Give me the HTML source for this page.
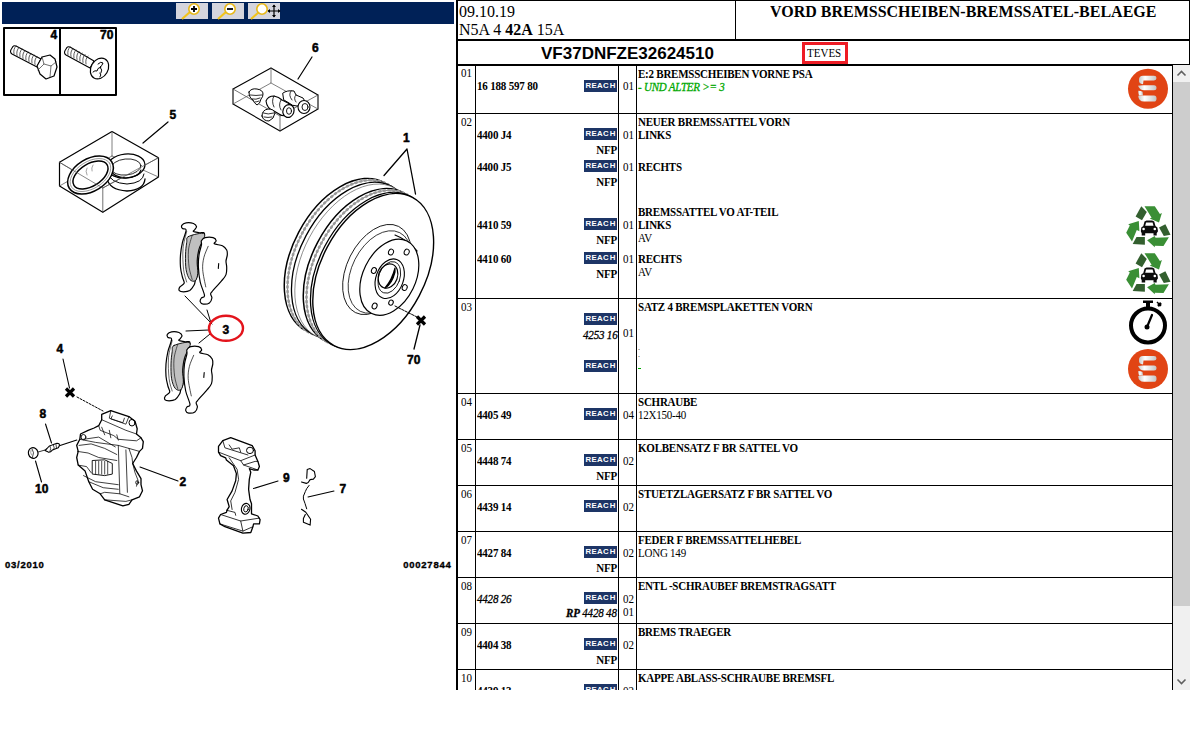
<!DOCTYPE html>
<html><head><meta charset="utf-8"><title>Parts</title>
<style>
html,body{margin:0;padding:0;background:#fff;}
body{width:1190px;height:732px;position:relative;overflow:hidden;font-family:'Liberation Serif', serif;}
</style></head><body>
<svg style="position:absolute;left:0;top:0" width="456" height="732" viewBox="0 0 456 732">
<g fill="none" stroke="#000" stroke-linejoin="round" stroke-linecap="round">
<!-- bolts box -->
<rect x="4" y="28" width="112" height="67" stroke-width="2"/>
<line x1="60" y1="28" x2="60" y2="95" stroke-width="2"/>
<!-- bolt 1 -->
<path d="M12 48 Q9 52 12 54 L37 67 L41 59 L16 46 Q13 45 12 48 Z" stroke-width="1.1" fill="#fff"/>
<path d="M16 46 q-3 3 -2 8 M19 47.5 q-3 3 -2 8 M22 49 q-3 3 -2 8 M25 50.5 q-3 3 -2 8 M28 52 q-3 3 -2 8 M31 53.5 q-3 3 -2 8 M34 55 q-3 3 -2 8 M37 56.5 q-3 3 -2 8" stroke-width="0.8" stroke="#333"/>
<path d="M42 57 L50 55 L55 59 L57 67 L54 76 L46 79 L40 74 L37 66 Z" stroke-width="1.2" fill="#fff"/>
<path d="M42 57 L44 64 L38 70 M44 64 L51 66 L56 62 M51 66 L50 77" stroke-width="0.7" stroke="#333"/>
<!-- bolt 2 -->
<path d="M66 49 Q63 53 66 55 L90 68 L94 61 L70 47 Q67 46 66 49 Z" stroke-width="1.1" fill="#fff"/>
<path d="M70 47 q-3 3 -2 8 M73 48.5 q-3 3 -2 8 M76 50 q-3 3 -2 8 M79 51.5 q-3 3 -2 8 M82 53 q-3 3 -2 8 M85 54.5 q-3 3 -2 8 M88 56 q-3 3 -2 8" stroke-width="0.8" stroke="#333"/>
<ellipse cx="99.5" cy="68.5" rx="8.5" ry="11" transform="rotate(30 99.5 68.5)" stroke-width="1.2" fill="#fff"/>
<path d="M98 64 q3 -3 5 -1 q-1 3 -3 4 q3 3 1 6 M101 67 q-4 1 -4 4 q-2 -1 -4 1 M100 73 q2 2 0 4" stroke-width="1"/>
<!-- box 6 -->
<path d="M271 68 L318 95 L318 109 L280 131 L233 104 L233 89 Z" stroke-width="1.1"/>
<path d="M233 89 L280 116 L318 95 M280 116 L280 131" stroke-width="0.75" stroke="#444"/>
<path d="M271 68 L271 83 L233 104 M271 83 L318 109" stroke-width="0.75" stroke="#555"/>
<path d="M249 92 q2 -4 8 -3 q6 1 6 5 q0 3 -2 5 q-1 5 -4 6 q-3 -2 -4 -5 q-4 -2 -4 -8 z" stroke-width="1" fill="#fff"/>
<path d="M250 95 q6 1 12 0 M252 99 q4 1 8 -1 M255 102 q2 0 4 -1" stroke-width="0.8"/>
<path d="M283 93 q4 -3 11 -2 l2 4 l7 3 q3 2 0 6 l-6 2 q-5 0 -8 -3 l-5 -3 z" stroke-width="1" fill="#fff"/>
<path d="M291 91 q-3 4 1 9 M296 95 q-3 3 0 7" stroke-width="0.8"/>
<path d="M266 101 q2 -5 8 -5 q5 1 8 4 l6 3 l4 3 q1 6 -4 9 q-5 2 -9 -1 l-5 -3 q-7 -2 -8 -10 z" stroke-width="1.1" fill="#fff"/>
<path d="M274 96 q-3 5 0 11 M281 100 q-3 5 0 10" stroke-width="0.8"/>
<ellipse cx="288.5" cy="111" rx="5.5" ry="6.5" transform="rotate(20 288.5 111)" stroke-width="1.2" fill="#fff"/>
<ellipse cx="289" cy="111" rx="2.5" ry="3.3" stroke-width="0.9"/>
<ellipse cx="304" cy="107" rx="6" ry="6.5" stroke-width="1.1" fill="#fff"/>
<ellipse cx="305" cy="107" rx="3" ry="3.5" stroke-width="0.9"/>
<path d="M262 116 q0 -6 6 -7 q6 0 7 4 q-1 6 -6 8 q-6 0 -7 -5 z" stroke-width="1" fill="#fff"/>
<path d="M263 113 q5 2 11 0 M264 117 q4 1 8 0" stroke-width="0.8"/>
<line x1="298" y1="79" x2="312" y2="57" stroke-width="1.2"/>
<!-- box 5 -->
<path d="M112 131.5 L158.5 157.7 L158.5 177 L102.8 212.3 L59.5 186 L59.5 162.3 Z" stroke-width="1.2"/>
<path d="M59.5 162.3 L102.8 188 L158.5 157.7 M102.8 188 L102.8 212.3" stroke-width="0.75" stroke="#444"/>
<path d="M112 131.5 L112 156 M59.5 186 L112 156 M112 156 L158.5 177" stroke-width="0.75" stroke="#555"/>
<path d="M107 178 q2 12 20 13 q17 -1 18 -12" stroke-width="1.3"/>
<path d="M108 173 q2 10 19 11 q16 -1 17 -10" stroke-width="1"/>
<ellipse cx="126" cy="166" rx="19" ry="12" transform="rotate(-6 126 166)" stroke-width="1.2" fill="#fff"/>
<ellipse cx="126" cy="167" rx="15" ry="8" transform="rotate(-6 126 167)" stroke-width="0.8"/>
<path d="M111 170 q2 7 15 8 q13 -1 15 -8" stroke-width="1.1"/>
<ellipse cx="90.5" cy="175" rx="25" ry="16" transform="rotate(-32 90.5 175)" stroke-width="1.5" fill="#fff"/>
<ellipse cx="90.5" cy="175" rx="19.5" ry="11" transform="rotate(-32 90.5 175)" stroke-width="1.5"/>
<ellipse cx="90.5" cy="175" rx="22.5" ry="13.5" transform="rotate(-32 90.5 175)" stroke-width="0.6" stroke="#666"/>
<path d="M87 168 q-2 3 0 7 M93 165 q-2 3 -1 6" stroke-width="0.6" stroke="#666"/>
<path d="M59.5 162.3 L102.8 188 L158.5 157.7" stroke-width="0.7" stroke="#555"/>
<line x1="143" y1="143" x2="168" y2="122" stroke-width="1.2"/>

<!-- disc: back to front -->
<ellipse cx="344.7" cy="256.4" rx="52.0" ry="83.8" transform="rotate(27.9 344.7 256.4)" stroke-width="1.5" fill="#fff" stroke="#000" />
<ellipse cx="347.9" cy="258.1" rx="52.0" ry="83.8" transform="rotate(27.9 347.9 258.1)" stroke-width="0.8" fill="none" stroke="#777" />
<ellipse cx="347.9" cy="258.1" rx="52.0" ry="83.8" transform="rotate(27.9 347.9 258.1)" stroke-width="2.6" fill="none" stroke="#999" stroke-dasharray="1.2 3.5"/>
<ellipse cx="351.9" cy="260.2" rx="52.0" ry="83.8" transform="rotate(27.9 351.9 260.2)" stroke-width="1.3" fill="#fff" stroke="#000" />
<ellipse cx="355.2" cy="262.0" rx="52.0" ry="83.8" transform="rotate(27.9 355.2 262.0)" stroke-width="0.6" fill="#fff" stroke="#555" />
<ellipse cx="363.7" cy="266.5" rx="52.0" ry="83.8" transform="rotate(27.9 363.7 266.5)" stroke-width="1.5" fill="#fff" stroke="#000" />
<ellipse cx="366.9" cy="268.2" rx="52.0" ry="83.8" transform="rotate(27.9 366.9 268.2)" stroke-width="0.8" fill="none" stroke="#777" />
<ellipse cx="366.9" cy="268.2" rx="52.0" ry="83.8" transform="rotate(27.9 366.9 268.2)" stroke-width="2.6" fill="none" stroke="#999" stroke-dasharray="1.2 3.5"/>
<ellipse cx="370.9" cy="270.3" rx="52.0" ry="83.8" transform="rotate(27.9 370.9 270.3)" stroke-width="1.3" fill="#fff" stroke="#000" />
<ellipse cx="373.2" cy="271.5" rx="52.0" ry="83.8" transform="rotate(27.9 373.2 271.5)" stroke-width="1.4" fill="#fff" stroke="#000" />
<ellipse cx="377" cy="269.5" rx="29.9" ry="48.2" transform="rotate(26.7 377 269.5)" stroke-width="0.8"/>
<ellipse cx="380" cy="272" rx="28" ry="44" transform="rotate(26.7 380 272)" stroke-width="0.7"/>
<path d="M395 235 Q408 240 417 251" stroke-width="1.2"/>
<ellipse cx="389.3" cy="277.3" rx="26.3" ry="40.3" transform="rotate(25.9 389.3 277.3)" stroke-width="1.2" fill="#fff"/>
<ellipse cx="389.7" cy="278.7" rx="13.7" ry="20.5" transform="rotate(20 389.7 278.7)" stroke-width="1.1"/>
<ellipse cx="389.3" cy="277.4" rx="10.6" ry="16.4" transform="rotate(20 389.3 277.4)" stroke-width="0.8"/>
<ellipse cx="388" cy="276" rx="9.5" ry="12.5" transform="rotate(20 388 276)" stroke-width="1.2"/>
<path d="M395 268 Q392 280 385 288 Q392 284 395 272 Z" stroke-width="1.2" fill="#000"/>
<g stroke-width="1">
<ellipse cx="391" cy="252.1" rx="2.4" ry="3" transform="rotate(25 391 252.1)"/>
<ellipse cx="406.7" cy="252.1" rx="2.4" ry="3" transform="rotate(25 406.7 252.1)"/>
<ellipse cx="373.9" cy="270.5" rx="2.4" ry="3" transform="rotate(25 373.9 270.5)"/>
<ellipse cx="404.7" cy="287.6" rx="2.4" ry="3" transform="rotate(25 404.7 287.6)"/>
<ellipse cx="374.6" cy="306" rx="2.4" ry="3" transform="rotate(25 374.6 306)"/>
<ellipse cx="391" cy="302.6" rx="2.2" ry="2.6" transform="rotate(25 391 302.6)"/>
</g>
<path d="M407 149 L384 175.5 M407 149 L415.5 194" stroke-width="1.3"/>
<path d="M395 306 L417 317" stroke-width="1" stroke-dasharray="2.5 1.2"/>
<path d="M420 325 L414 349" stroke-width="1.3"/>

<!-- pads upper pair -->
<g id="pads">
<path d="M181.8 225.4 C182.4 224.5 184.1 223.2 186.1 222.9 C188.0 222.6 191.7 222.9 193.5 223.5 C195.2 224.2 196.3 225.6 196.5 226.6 C196.7 227.6 195.2 228.9 194.7 229.7 C194.2 230.5 192.6 231.0 193.5 231.5 C194.3 232.0 197.8 232.4 199.6 232.8 C201.4 233.2 204.6 231.3 204.5 234.0 C204.4 236.7 200.2 244.2 199.0 248.8 C197.8 253.3 197.3 257.0 197.1 261.1 C196.9 265.2 198.1 270.1 197.8 273.4 C197.4 276.6 195.9 278.8 195.3 280.7 C194.7 282.7 195.0 283.4 194.1 285.0 C193.1 286.7 191.5 289.4 189.8 290.6 C188.0 291.7 185.4 291.8 183.6 291.8 C181.9 291.8 179.9 291.4 179.3 290.6 C178.7 289.8 179.1 288.1 179.9 286.9 C180.7 285.7 183.8 284.8 184.2 283.2 C184.6 281.6 183.0 279.7 182.4 277.0 C181.8 274.4 180.8 270.9 180.5 267.2 C180.2 263.5 180.2 259.0 180.5 254.9 C180.8 250.8 181.5 246.7 182.4 242.6 C183.3 238.5 186.1 232.7 186.1 230.3 C186.1 227.9 183.1 229.3 182.4 228.5 C181.7 227.6 181.2 226.3 181.8 225.4 Z" stroke-width="1.2" fill="#fff"/>
<path d="M188.5 236.5 C191.5 235.0 202.8 231.9 204.5 234.0 C206.3 236.0 200.2 244.2 199.0 248.8 C197.8 253.3 197.3 257.0 197.1 261.1 C196.9 265.2 198.1 270.1 197.8 273.4 C197.4 276.6 196.6 279.7 195.3 280.7 C194.0 281.8 191.3 281.3 189.8 279.5 C188.2 277.7 186.8 273.8 186.1 269.7 C185.4 265.6 185.4 259.4 185.5 254.9 C185.6 250.4 186.2 245.7 186.7 242.6 C187.2 239.5 185.6 237.9 188.5 236.5 Z" stroke-width="0.9" fill="#c0c0c0"/>
<path d="M192.2 235.2 C191.6 237.7 189.0 244.7 188.5 250.0 C188.0 255.3 188.5 262.3 189.1 267.2 C189.8 272.1 191.7 277.5 192.2 279.5 " stroke-width="0.6"/>
<path d="M186.7 231.5 C186.1 234.4 183.5 242.4 183.0 248.8 C182.5 255.1 183.0 264.1 183.6 269.7 C184.2 275.2 186.2 279.9 186.7 282.0 " stroke-width="0.6"/>
<path d="M201.4 240.8 C202.1 239.5 203.2 238.2 205.1 237.7 C207.1 237.2 211.3 237.2 213.1 237.7 C215.0 238.2 216.0 239.7 216.2 240.8 C216.4 241.8 213.3 243.0 214.4 243.8 C215.4 244.7 220.3 244.7 222.4 245.7 C224.4 246.7 225.8 248.4 226.7 250.0 C227.5 251.5 227.4 253.1 227.3 254.9 C227.2 256.7 226.1 259.0 226.0 261.1 C225.9 263.1 226.7 264.9 226.7 267.2 C226.7 269.5 226.9 272.3 226.0 274.6 C225.2 276.8 224.1 277.9 221.7 280.7 C219.4 283.6 213.7 289.5 211.9 291.8 C210.1 294.1 210.7 293.2 210.7 294.3 C210.7 295.3 212.1 296.5 211.9 298.0 C211.7 299.4 210.9 301.8 209.4 302.9 C208.0 303.9 204.8 304.3 203.3 304.1 C201.8 303.9 200.5 302.7 200.2 301.6 C199.9 300.6 200.7 299.0 201.4 298.0 C202.2 296.9 204.7 298.2 204.5 295.5 C204.3 292.8 201.2 286.7 200.2 282.0 C199.2 277.2 198.6 271.7 198.4 267.2 C198.2 262.7 198.5 258.6 199.0 254.9 C199.5 251.2 201.0 247.4 201.4 245.1 C201.9 242.7 200.8 242.0 201.4 240.8 Z" stroke-width="1.2" fill="#fff"/>
<path d="M208.2 246.3 C207.5 248.1 204.8 253.5 203.9 257.4 C203.0 261.3 202.4 264.7 202.7 269.7 C203.0 274.6 205.2 284.0 205.8 286.9 " stroke-width="0.7"/>
<path d="M218.7 263.5 218.3 268.4" stroke-width="1.1"/>
</g>
<use href="#pads" transform="translate(-14.5 109)"/>
<!-- leaders for 3 -->
<path d="M185 296 L212 324 M207 310 L211 323 M186 331 L209 330 M199 343 L210 334" stroke-width="1"/>
<text x="222.5" y="333.5" font-family="Liberation Sans" font-weight="bold" font-size="12" fill="#000" stroke="#000" stroke-width="0.5">3</text>
<ellipse cx="226" cy="328.3" rx="17" ry="12.5" stroke="#e3141c" stroke-width="2.4"/>
<!-- label texts -->
<g font-family="Liberation Sans" font-weight="bold" font-size="12" fill="#000" stroke="#000" stroke-width="0.5">
<text x="50.5" y="39">4</text>
<text x="100" y="39">70</text>
<text x="312" y="52">6</text>
<text x="169.5" y="119">5</text>
<text x="403" y="142">1</text>
<text x="407" y="364">70</text>
<text x="56.5" y="353">4</text>
<text x="39.5" y="418">8</text>
<text x="35" y="493">10</text>
<text x="179.5" y="486">2</text>
<text x="283" y="482">9</text>
<text x="339.5" y="492.5">7</text>
</g>
<g font-family="Liberation Sans" font-weight="bold" font-size="9.5" fill="#000" stroke="#000" stroke-width="0.35" letter-spacing="0.75">
<text x="5" y="568">03/2010</text>
<text x="451.5" y="568" text-anchor="end">00027844</text>
</g>
<!-- crosses -->
<path d="M417 316.5 l8 8 M425 316.5 l-8 8" stroke-width="3.2" stroke-linecap="butt"/>
<path d="M66 388.5 l8 8 M74 388.5 l-8 8" stroke-width="3.2" stroke-linecap="butt"/>
<!-- leaders -->
<path d="M63 359 L69.5 388" stroke-width="1.1"/>
<path d="M77 397 L103 411" stroke-width="1" stroke-dasharray="2 1.5"/>
<path d="M45.5 424 L51.5 443 M35.5 461 L41.5 482 M59.3 445.8 L76.8 440.1 M140 467 L178 481 M253.5 488.5 L278 481 M308 497 L334 491" stroke-width="1.1"/>
<!-- part 10 cap -->
<ellipse cx="33.2" cy="453" rx="4.8" ry="5.4" transform="rotate(-15 33.2 453)" stroke-width="1.2" fill="#fff"/>
<path d="M32 448.5 q3 4 0.5 9" stroke-width="0.7"/>
<path d="M31 450 q-1 3 0.5 5" stroke-width="0.6" stroke="#666"/>
<path d="M38.6 451.9 L45 450" stroke-width="0.8"/>
<!-- part 8 bleed screw -->
<path d="M45 450.5 l2 -2 q2 -3 5 -3.5 l5 -1.7 q3 0 2.3 2.5 l-1 2 l-6 2.3 q-2 2.5 -4 2 z" stroke-width="1.1" fill="#fff"/>
<path d="M50 446 q1.5 2.5 0 5.5 M53.5 445.3 q1.3 2.3 0.3 4.5 M56 444.5 l0.5 3.5" stroke-width="0.7"/>
<!-- caliper -->
<path d="M101.7 414.4 110.8 410.6 128.9 416.6 135.0 421.2 137.2 428.7 136.5 434.0 141.0 437.8 143.3 441.6 142.5 448.4 139.5 451.4 136.5 457.5 132.7 463.5 136.5 471.1 141.0 478.7 141.0 484.7 142.5 490.8 139.5 496.8 132.0 499.8 128.9 504.4 122.9 505.9 104.7 499.8 100.2 493.8 92.6 489.3 88.8 481.7 85.1 471.1 78.2 465.1 76.7 457.5 78.2 451.4 76.7 445.4 79.8 439.3 80.5 434.0 88.1 430.3 94.1 428.0 98.7 425.7 101.7 419.7 Z" stroke-width="1.3" fill="#fff"/>
<path d="M101.7 419.7 125.9 430.3 136.5 434.0" stroke-width="0.75"/>
<path d="M110.8 410.6 109.3 418.2 125.9 424.2 128.9 416.6" stroke-width="0.75"/>
<path d="M112.3 415.9 110.8 418.9 122.9 422.7 124.4 418.2" stroke-width="0.75"/>
<path d="M98.7 425.7 100.2 430.3 113.8 435.6 118.3 439.3 136.5 440.8 141.0 437.8" stroke-width="0.75"/>
<path d="M101.7 427.2 104.7 434.8" stroke-width="0.75"/>
<path d="M109.3 430.3 110.8 437.8" stroke-width="0.75"/>
<path d="M116.8 434.8 118.3 440.1" stroke-width="0.75"/>
<path d="M118.3 445.4 119.8 493.8" stroke-width="0.75"/>
<path d="M125.9 449.9 127.4 492.3" stroke-width="0.75"/>
<path d="M79.8 439.3 95.6 442.4 118.3 445.4 128.9 448.4 139.5 451.4" stroke-width="0.75"/>
<path d="M128.9 448.4 132.0 457.5 132.7 463.5" stroke-width="0.75"/>
<path d="M83.5 439.3 98.7 437.1 115.3 446.9" stroke-width="0.75"/>
<path d="M79.0 445.4 91.1 443.9 104.7 448.4 116.8 454.5" stroke-width="0.75"/>
<path d="M77.5 451.4 88.1 453.0 98.7 457.5 116.8 460.5" stroke-width="0.75"/>
<path d="M83.5 475.6 95.6 481.7 118.3 484.7" stroke-width="0.75"/>
<path d="M88.8 481.7 103.2 487.7 118.3 489.3" stroke-width="0.75"/>
<path d="M100.2 493.8 104.7 492.3 119.8 493.8 128.9 496.8" stroke-width="0.75"/>
<path d="M104.7 499.8 125.9 501.4 132.0 499.8" stroke-width="0.75"/>
<path d="M132.7 463.5 135.0 472.6 138.0 480.2 136.5 486.2" stroke-width="0.75"/>
<path d="M78.2 465.1 86.6 466.6 91.1 472.6" stroke-width="0.75"/>
<path d="M92.6 460.5 104.7 459.8 112.3 463.5 112.3 474.1 104.7 475.6 92.6 474.1 Z" stroke-width="0.9" fill="#fff"/>
<path d="M95.6 461.3 95.6 474.1" stroke-width="0.7"/>
<path d="M98.7 461.3 98.7 474.1" stroke-width="0.7"/>
<path d="M101.7 461.3 101.7 474.1" stroke-width="0.7"/>
<path d="M104.7 461.3 104.7 474.1" stroke-width="0.7"/>
<path d="M107.7 461.3 107.7 474.1" stroke-width="0.7"/>
<ellipse cx="132.0" cy="422.7" rx="3" ry="3.3" stroke-width="1"/>
<ellipse cx="83.5" cy="437.1" rx="2.4" ry="2.6" stroke-width="0.9"/>
<ellipse cx="137.2" cy="482.5" rx="1.5" ry="1.8" stroke-width="0.8"/>
<!-- bracket 9 -->
<path d="M218.5 446.4 222.8 440.6 230.7 437.7 252.2 445.6 255.1 450.7 255.1 455.0 257.9 461.4 259.4 466.5 257.9 470.0 253.6 470.0 249.3 468.6 250.8 472.2 249.3 479.4 248.6 489.4 250.0 499.5 251.5 503.8 251.5 513.8 257.9 516.0 260.1 519.6 259.4 523.9 253.6 523.9 252.9 526.7 250.8 532.5 242.9 533.2 224.9 526.7 219.9 523.9 218.5 518.1 220.6 514.5 226.4 512.4 227.1 510.2 229.2 506.6 227.1 499.5 232.1 490.9 235.7 480.8 236.4 473.6 233.5 465.7 226.4 460.0 225.6 457.8 220.6 455.7 218.5 452.1 Z" stroke-width="1.3" fill="#fff"/>
<path d="M218.5 452.1 240.7 460.7 255.1 455.0" stroke-width="0.8"/>
<path d="M222.8 440.6 224.9 447.8 247.9 455.0" stroke-width="0.8"/>
<path d="M240.7 460.7 243.6 465.0 257.9 470.0" stroke-width="0.8"/>
<path d="M243.6 465.0 255.1 461.4 257.9 461.4" stroke-width="0.8"/>
<path d="M229.2 457.8 237.1 469.3 238.6 479.4 235.0 492.3 230.7 500.9 232.1 509.5" stroke-width="0.8"/>
<path d="M220.6 514.5 240.7 521.0 259.4 518.1" stroke-width="0.8"/>
<path d="M240.7 521.0 242.9 531.1" stroke-width="0.8"/>
<path d="M219.9 523.9 242.9 531.1 252.9 526.7" stroke-width="0.8"/>
<path d="M226.4 510.2 235.0 512.4 235.7 515.3" stroke-width="0.8"/>
<path d="M229.2 444.9 232.1 449.2 239.3 447.8 240.7 452.1" stroke-width="0.8"/>
<ellipse cx="250.0" cy="450.4" rx="3.5" ry="3.2" stroke-width="1"/>
<ellipse cx="245.7" cy="508.8" rx="4.2" ry="5.5" transform="rotate(15 245.7 508.8)" stroke-width="1.1"/>
<ellipse cx="246.0" cy="508.8" rx="2.2" ry="3.2" transform="rotate(15 246.0 508.8)" stroke-width="0.9"/>
<!-- clip 7 -->
<path d="M306.7 478.2 L307.2 469.6 L310.1 468.6 L314.4 471.5 L315.4 476.7 L313.4 479.1 L310.1 479.6 L308.2 482.5 L306.3 483.4 L301.5 482" stroke-width="1.1"/>
<path d="M309.1 485.4 Q306 489 305.3 491.6 Q302.5 497 303.4 499 Q305 503 306.7 508.8" stroke-width="1"/>
<path d="M301.5 509.3 L305.8 512.2 L307.7 515 L310.6 519.3 L310.1 525.1 L303.4 522.2 L303.4 518.4 L305.3 514.5" stroke-width="1.1"/>
</g>
</svg>

<div style="position:absolute;left:2px;top:2px;width:452px;height:22px;background:#002157;"></div><div style="position:absolute;left:176px;top:3px;width:32px;height:16px;background:#d5d5dd;"></div><div style="position:absolute;left:212px;top:3px;width:32px;height:16px;background:#d5d5dd;"></div><div style="position:absolute;left:248px;top:3px;width:32px;height:16px;background:#d5d5dd;"></div><div style="position:absolute;left:456px;top:0px;width:734px;height:1px;background:#000;"></div><div style="position:absolute;left:456px;top:0px;width:2px;height:690px;background:#000;"></div><div style="position:absolute;left:1189px;top:0px;width:1px;height:65px;background:#000;"></div><div style="position:absolute;left:735px;top:0px;width:1px;height:40px;background:#000;"></div><div style="position:absolute;left:456px;top:39px;width:734px;height:2px;background:#000;"></div><div style="position:absolute;left:456px;top:64px;width:734px;height:1px;background:#000;"></div><div style="position:absolute;left:456px;top:65px;width:717px;height:1px;background:#000;"></div><div style="position:absolute;left:459px;top:4.20px;font:normal normal 16.00px/16.00px 'Liberation Serif', serif;color:#000;white-space:pre;">09.10.19</div><div style="position:absolute;left:459px;top:22.20px;font:normal normal 16.00px/16.00px 'Liberation Serif', serif;color:#000;white-space:pre;">N5A 4 <b>42A</b> 15A</div><div style="position:absolute;left:769.5px;top:2.56px;font:normal bold 17.60px/17.60px 'Liberation Serif', serif;color:#000;white-space:pre;transform:scaleX(0.9091);transform-origin:left top;">VORD BREMSSCHEIBEN-BREMSSATEL-BELAEGE</div><div style="position:absolute;left:541px;top:45.21px;font:normal bold 17.00px/17.00px 'Liberation Sans', sans-serif;color:#000;white-space:pre;">VF37DNFZE32624510</div><div style="position:absolute;left:802px;top:42px;width:40px;height:16px;border:3px solid #ee1c25;"></div><div style="position:absolute;left:807px;top:48.13px;font:normal normal 11.66px/11.66px 'Liberation Serif', serif;color:#000;white-space:pre;transform:scaleX(0.9434);transform-origin:left top;">TEVES</div><div style="position:absolute;left:1172px;top:65px;width:1px;height:625px;background:#000;"></div><div style="position:absolute;left:475px;top:65px;width:1px;height:625px;background:#000;"></div><div style="position:absolute;left:618px;top:65px;width:1px;height:625px;background:#000;"></div><div style="position:absolute;left:636px;top:65px;width:1px;height:625px;background:#000;"></div><div style="position:absolute;left:456px;top:113px;width:716px;height:1px;background:#000;"></div><div style="position:absolute;left:456px;top:298px;width:716px;height:1px;background:#000;"></div><div style="position:absolute;left:456px;top:393px;width:716px;height:1px;background:#000;"></div><div style="position:absolute;left:456px;top:439px;width:716px;height:1px;background:#000;"></div><div style="position:absolute;left:456px;top:485px;width:716px;height:1px;background:#000;"></div><div style="position:absolute;left:456px;top:531px;width:716px;height:1px;background:#000;"></div><div style="position:absolute;left:456px;top:577px;width:716px;height:1px;background:#000;"></div><div style="position:absolute;left:456px;top:623px;width:716px;height:1px;background:#000;"></div><div style="position:absolute;left:456px;top:669px;width:716px;height:1px;background:#000;"></div><div style="position:absolute;left:1173px;top:65px;width:17px;height:625px;background:#f0f0f0;"></div><div style="position:absolute;left:1173px;top:82px;width:17px;height:524px;background:#cdcdcd;"></div><svg style="position:absolute;left:1173px;top:65px" width="17" height="17"><path d="M4.5 10.5 L8.5 6.5 L12.5 10.5" stroke="#606060" stroke-width="1.6" fill="none"/></svg><svg style="position:absolute;left:1173px;top:673px" width="17" height="17"><path d="M4.5 6.5 L8.5 10.5 L12.5 6.5" stroke="#606060" stroke-width="1.6" fill="none"/></svg><div style="position:absolute;left:461px;top:68.23px;font:normal normal 11.66px/11.66px 'Liberation Serif', serif;color:#000;white-space:pre;transform:scaleX(0.9434);transform-origin:left top;">01</div><div style="position:absolute;left:461px;top:117.23px;font:normal normal 11.66px/11.66px 'Liberation Serif', serif;color:#000;white-space:pre;transform:scaleX(0.9434);transform-origin:left top;">02</div><div style="position:absolute;left:461px;top:302.23px;font:normal normal 11.66px/11.66px 'Liberation Serif', serif;color:#000;white-space:pre;transform:scaleX(0.9434);transform-origin:left top;">03</div><div style="position:absolute;left:461px;top:397.23px;font:normal normal 11.66px/11.66px 'Liberation Serif', serif;color:#000;white-space:pre;transform:scaleX(0.9434);transform-origin:left top;">04</div><div style="position:absolute;left:461px;top:443.23px;font:normal normal 11.66px/11.66px 'Liberation Serif', serif;color:#000;white-space:pre;transform:scaleX(0.9434);transform-origin:left top;">05</div><div style="position:absolute;left:461px;top:489.23px;font:normal normal 11.66px/11.66px 'Liberation Serif', serif;color:#000;white-space:pre;transform:scaleX(0.9434);transform-origin:left top;">06</div><div style="position:absolute;left:461px;top:535.23px;font:normal normal 11.66px/11.66px 'Liberation Serif', serif;color:#000;white-space:pre;transform:scaleX(0.9434);transform-origin:left top;">07</div><div style="position:absolute;left:461px;top:581.23px;font:normal normal 11.66px/11.66px 'Liberation Serif', serif;color:#000;white-space:pre;transform:scaleX(0.9434);transform-origin:left top;">08</div><div style="position:absolute;left:461px;top:627.23px;font:normal normal 11.66px/11.66px 'Liberation Serif', serif;color:#000;white-space:pre;transform:scaleX(0.9434);transform-origin:left top;">09</div><div style="position:absolute;left:461px;top:673.23px;font:normal normal 11.66px/11.66px 'Liberation Serif', serif;color:#000;white-space:pre;transform:scaleX(0.9434);transform-origin:left top;">10</div><div style="position:absolute;left:477px;top:81.23px;font:normal bold 11.66px/11.66px 'Liberation Serif', serif;color:#000;white-space:pre;letter-spacing:-0.2px;transform:scaleX(0.9434);transform-origin:left top;">16 188 597 80</div><div style="position:absolute;left:584px;top:80px;width:33px;height:12px;background:#1d3566;"></div><div style="position:absolute;left:585.5px;top:82.2px;color:#fff;font:bold 7.8px/8px 'Liberation Sans', sans-serif;letter-spacing:0.35px;white-space:pre;">REAC<span style="letter-spacing:0">&#8202;</span>H</div><div style="position:absolute;left:622.5px;top:81.23px;font:normal normal 11.66px/11.66px 'Liberation Serif', serif;color:#000;white-space:pre;transform:scaleX(0.9434);transform-origin:left top;">01</div><div style="position:absolute;left:638px;top:68.73px;font:normal bold 11.66px/11.66px 'Liberation Serif', serif;color:#000;white-space:pre;letter-spacing:-0.25px;transform:scaleX(0.9434);transform-origin:left top;">E:2 BREMSSCHEIBEN VORNE PSA</div><div style="position:absolute;left:638px;top:81.73px;font:italic normal 11.66px/11.66px 'Liberation Serif', serif;color:#00a800;white-space:pre;letter-spacing:-0.25px;transform:scaleX(0.9434);transform-origin:left top;-webkit-text-stroke:0.3px;">- UND ALTER &gt;= 3</div><div style="position:absolute;left:477px;top:130.23px;font:normal bold 11.66px/11.66px 'Liberation Serif', serif;color:#000;white-space:pre;letter-spacing:-0.2px;transform:scaleX(0.9434);transform-origin:left top;">4400 J4</div><div style="position:absolute;left:584px;top:128px;width:33px;height:12px;background:#1d3566;"></div><div style="position:absolute;left:585.5px;top:130.2px;color:#fff;font:bold 7.8px/8px 'Liberation Sans', sans-serif;letter-spacing:0.35px;white-space:pre;">REAC<span style="letter-spacing:0">&#8202;</span>H</div><div style="position:absolute;left:622.5px;top:130.23px;font:normal normal 11.66px/11.66px 'Liberation Serif', serif;color:#000;white-space:pre;transform:scaleX(0.9434);transform-origin:left top;">01</div><div style="position:absolute;right:573px;top:145.23px;font:normal bold 11.66px/11.66px 'Liberation Serif', serif;color:#000;white-space:pre;letter-spacing:-0.2px;transform:scaleX(0.9434);transform-origin:right top;">NFP</div><div style="position:absolute;left:477px;top:162.23px;font:normal bold 11.66px/11.66px 'Liberation Serif', serif;color:#000;white-space:pre;letter-spacing:-0.2px;transform:scaleX(0.9434);transform-origin:left top;">4400 J5</div><div style="position:absolute;left:584px;top:160px;width:33px;height:12px;background:#1d3566;"></div><div style="position:absolute;left:585.5px;top:162.2px;color:#fff;font:bold 7.8px/8px 'Liberation Sans', sans-serif;letter-spacing:0.35px;white-space:pre;">REAC<span style="letter-spacing:0">&#8202;</span>H</div><div style="position:absolute;left:622.5px;top:162.23px;font:normal normal 11.66px/11.66px 'Liberation Serif', serif;color:#000;white-space:pre;transform:scaleX(0.9434);transform-origin:left top;">01</div><div style="position:absolute;right:573px;top:177.23px;font:normal bold 11.66px/11.66px 'Liberation Serif', serif;color:#000;white-space:pre;letter-spacing:-0.2px;transform:scaleX(0.9434);transform-origin:right top;">NFP</div><div style="position:absolute;left:477px;top:220.23px;font:normal bold 11.66px/11.66px 'Liberation Serif', serif;color:#000;white-space:pre;letter-spacing:-0.2px;transform:scaleX(0.9434);transform-origin:left top;">4410 59</div><div style="position:absolute;left:584px;top:218px;width:33px;height:12px;background:#1d3566;"></div><div style="position:absolute;left:585.5px;top:220.2px;color:#fff;font:bold 7.8px/8px 'Liberation Sans', sans-serif;letter-spacing:0.35px;white-space:pre;">REAC<span style="letter-spacing:0">&#8202;</span>H</div><div style="position:absolute;left:622.5px;top:220.23px;font:normal normal 11.66px/11.66px 'Liberation Serif', serif;color:#000;white-space:pre;transform:scaleX(0.9434);transform-origin:left top;">01</div><div style="position:absolute;right:573px;top:235.23px;font:normal bold 11.66px/11.66px 'Liberation Serif', serif;color:#000;white-space:pre;letter-spacing:-0.2px;transform:scaleX(0.9434);transform-origin:right top;">NFP</div><div style="position:absolute;left:477px;top:254.23px;font:normal bold 11.66px/11.66px 'Liberation Serif', serif;color:#000;white-space:pre;letter-spacing:-0.2px;transform:scaleX(0.9434);transform-origin:left top;">4410 60</div><div style="position:absolute;left:584px;top:252px;width:33px;height:12px;background:#1d3566;"></div><div style="position:absolute;left:585.5px;top:254.2px;color:#fff;font:bold 7.8px/8px 'Liberation Sans', sans-serif;letter-spacing:0.35px;white-space:pre;">REAC<span style="letter-spacing:0">&#8202;</span>H</div><div style="position:absolute;left:622.5px;top:254.23px;font:normal normal 11.66px/11.66px 'Liberation Serif', serif;color:#000;white-space:pre;transform:scaleX(0.9434);transform-origin:left top;">01</div><div style="position:absolute;right:573px;top:268.73px;font:normal bold 11.66px/11.66px 'Liberation Serif', serif;color:#000;white-space:pre;letter-spacing:-0.2px;transform:scaleX(0.9434);transform-origin:right top;">NFP</div><div style="position:absolute;left:638px;top:117.23px;font:normal bold 11.66px/11.66px 'Liberation Serif', serif;color:#000;white-space:pre;letter-spacing:-0.25px;transform:scaleX(0.9434);transform-origin:left top;">NEUER BREMSSATTEL VORN</div><div style="position:absolute;left:638px;top:130.23px;font:normal bold 11.66px/11.66px 'Liberation Serif', serif;color:#000;white-space:pre;letter-spacing:-0.25px;transform:scaleX(0.9434);transform-origin:left top;">LINKS</div><div style="position:absolute;left:638px;top:162.23px;font:normal bold 11.66px/11.66px 'Liberation Serif', serif;color:#000;white-space:pre;letter-spacing:-0.25px;transform:scaleX(0.9434);transform-origin:left top;">RECHTS</div><div style="position:absolute;left:638px;top:206.83px;font:normal bold 11.66px/11.66px 'Liberation Serif', serif;color:#000;white-space:pre;letter-spacing:-0.25px;transform:scaleX(0.9434);transform-origin:left top;">BREMSSATTEL VO AT-TEIL</div><div style="position:absolute;left:638px;top:220.23px;font:normal bold 11.66px/11.66px 'Liberation Serif', serif;color:#000;white-space:pre;letter-spacing:-0.25px;transform:scaleX(0.9434);transform-origin:left top;">LINKS</div><div style="position:absolute;left:638px;top:233.23px;font:normal normal 11.66px/11.66px 'Liberation Serif', serif;color:#000;white-space:pre;letter-spacing:-0.25px;transform:scaleX(0.9434);transform-origin:left top;">AV</div><div style="position:absolute;left:638px;top:254.23px;font:normal bold 11.66px/11.66px 'Liberation Serif', serif;color:#000;white-space:pre;letter-spacing:-0.25px;transform:scaleX(0.9434);transform-origin:left top;">RECHTS</div><div style="position:absolute;left:638px;top:266.83px;font:normal normal 11.66px/11.66px 'Liberation Serif', serif;color:#000;white-space:pre;letter-spacing:-0.25px;transform:scaleX(0.9434);transform-origin:left top;">AV</div><div style="position:absolute;left:638px;top:302.23px;font:normal bold 11.66px/11.66px 'Liberation Serif', serif;color:#000;white-space:pre;letter-spacing:-0.25px;transform:scaleX(0.9434);transform-origin:left top;">SATZ 4 BREMSPLAKETTEN VORN</div><div style="position:absolute;left:584px;top:313px;width:33px;height:12px;background:#1d3566;"></div><div style="position:absolute;left:585.5px;top:315.2px;color:#fff;font:bold 7.8px/8px 'Liberation Sans', sans-serif;letter-spacing:0.35px;white-space:pre;">REAC<span style="letter-spacing:0">&#8202;</span>H</div><div style="position:absolute;right:573px;top:329.53px;font:italic normal 11.66px/11.66px 'Liberation Serif', serif;color:#000;white-space:pre;letter-spacing:-0.2px;transform:scaleX(0.9434);transform-origin:right top;-webkit-text-stroke:0.3px;">4253 16</div><div style="position:absolute;left:622.5px;top:328.23px;font:normal normal 11.66px/11.66px 'Liberation Serif', serif;color:#000;white-space:pre;transform:scaleX(0.9434);transform-origin:left top;">01</div><div style="position:absolute;left:584px;top:360px;width:33px;height:12px;background:#1d3566;"></div><div style="position:absolute;left:585.5px;top:362.2px;color:#fff;font:bold 7.8px/8px 'Liberation Sans', sans-serif;letter-spacing:0.35px;white-space:pre;">REAC<span style="letter-spacing:0">&#8202;</span>H</div><div style="position:absolute;left:638px;top:343.70px;font:normal normal 8.00px/8.00px 'Liberation Serif', serif;color:#000;white-space:pre;">.</div><div style="position:absolute;left:638px;top:351.00px;font:normal normal 8.00px/8.00px 'Liberation Serif', serif;color:#000;white-space:pre;">.</div><div style="position:absolute;left:638px;top:368px;width:3px;height:1px;background:#00a800;"></div><div style="position:absolute;left:477px;top:410.23px;font:normal bold 11.66px/11.66px 'Liberation Serif', serif;color:#000;white-space:pre;letter-spacing:-0.2px;transform:scaleX(0.9434);transform-origin:left top;">4405 49</div><div style="position:absolute;left:584px;top:408px;width:33px;height:12px;background:#1d3566;"></div><div style="position:absolute;left:585.5px;top:410.2px;color:#fff;font:bold 7.8px/8px 'Liberation Sans', sans-serif;letter-spacing:0.35px;white-space:pre;">REAC<span style="letter-spacing:0">&#8202;</span>H</div><div style="position:absolute;left:622.5px;top:410.23px;font:normal normal 11.66px/11.66px 'Liberation Serif', serif;color:#000;white-space:pre;transform:scaleX(0.9434);transform-origin:left top;">04</div><div style="position:absolute;left:638px;top:397.23px;font:normal bold 11.66px/11.66px 'Liberation Serif', serif;color:#000;white-space:pre;letter-spacing:-0.25px;transform:scaleX(0.9434);transform-origin:left top;">SCHRAUBE</div><div style="position:absolute;left:638px;top:410.23px;font:normal normal 11.66px/11.66px 'Liberation Serif', serif;color:#000;white-space:pre;letter-spacing:-0.25px;transform:scaleX(0.9434);transform-origin:left top;">12X150-40</div><div style="position:absolute;left:477px;top:456.23px;font:normal bold 11.66px/11.66px 'Liberation Serif', serif;color:#000;white-space:pre;letter-spacing:-0.2px;transform:scaleX(0.9434);transform-origin:left top;">4448 74</div><div style="position:absolute;left:584px;top:454px;width:33px;height:12px;background:#1d3566;"></div><div style="position:absolute;left:585.5px;top:456.2px;color:#fff;font:bold 7.8px/8px 'Liberation Sans', sans-serif;letter-spacing:0.35px;white-space:pre;">REAC<span style="letter-spacing:0">&#8202;</span>H</div><div style="position:absolute;left:622.5px;top:456.23px;font:normal normal 11.66px/11.66px 'Liberation Serif', serif;color:#000;white-space:pre;transform:scaleX(0.9434);transform-origin:left top;">02</div><div style="position:absolute;right:573px;top:470.93px;font:normal bold 11.66px/11.66px 'Liberation Serif', serif;color:#000;white-space:pre;letter-spacing:-0.2px;transform:scaleX(0.9434);transform-origin:right top;">NFP</div><div style="position:absolute;left:638px;top:443.23px;font:normal bold 11.66px/11.66px 'Liberation Serif', serif;color:#000;white-space:pre;letter-spacing:-0.25px;transform:scaleX(0.9434);transform-origin:left top;">KOLBENSATZ F BR SATTEL VO</div><div style="position:absolute;left:477px;top:502.23px;font:normal bold 11.66px/11.66px 'Liberation Serif', serif;color:#000;white-space:pre;letter-spacing:-0.2px;transform:scaleX(0.9434);transform-origin:left top;">4439 14</div><div style="position:absolute;left:584px;top:500px;width:33px;height:12px;background:#1d3566;"></div><div style="position:absolute;left:585.5px;top:502.2px;color:#fff;font:bold 7.8px/8px 'Liberation Sans', sans-serif;letter-spacing:0.35px;white-space:pre;">REAC<span style="letter-spacing:0">&#8202;</span>H</div><div style="position:absolute;left:622.5px;top:502.23px;font:normal normal 11.66px/11.66px 'Liberation Serif', serif;color:#000;white-space:pre;transform:scaleX(0.9434);transform-origin:left top;">02</div><div style="position:absolute;left:638px;top:489.23px;font:normal bold 11.66px/11.66px 'Liberation Serif', serif;color:#000;white-space:pre;letter-spacing:-0.25px;transform:scaleX(0.9434);transform-origin:left top;">STUETZLAGERSATZ F BR SATTEL VO</div><div style="position:absolute;left:477px;top:548.23px;font:normal bold 11.66px/11.66px 'Liberation Serif', serif;color:#000;white-space:pre;letter-spacing:-0.2px;transform:scaleX(0.9434);transform-origin:left top;">4427 84</div><div style="position:absolute;left:584px;top:546px;width:33px;height:12px;background:#1d3566;"></div><div style="position:absolute;left:585.5px;top:548.2px;color:#fff;font:bold 7.8px/8px 'Liberation Sans', sans-serif;letter-spacing:0.35px;white-space:pre;">REAC<span style="letter-spacing:0">&#8202;</span>H</div><div style="position:absolute;left:622.5px;top:548.23px;font:normal normal 11.66px/11.66px 'Liberation Serif', serif;color:#000;white-space:pre;transform:scaleX(0.9434);transform-origin:left top;">02</div><div style="position:absolute;right:573px;top:562.93px;font:normal bold 11.66px/11.66px 'Liberation Serif', serif;color:#000;white-space:pre;letter-spacing:-0.2px;transform:scaleX(0.9434);transform-origin:right top;">NFP</div><div style="position:absolute;left:638px;top:535.23px;font:normal bold 11.66px/11.66px 'Liberation Serif', serif;color:#000;white-space:pre;letter-spacing:-0.25px;transform:scaleX(0.9434);transform-origin:left top;">FEDER F BREMSSATTELHEBEL</div><div style="position:absolute;left:638px;top:548.23px;font:normal normal 11.66px/11.66px 'Liberation Serif', serif;color:#000;white-space:pre;letter-spacing:-0.25px;transform:scaleX(0.9434);transform-origin:left top;">LONG 149</div><div style="position:absolute;left:477px;top:594.23px;font:italic normal 11.66px/11.66px 'Liberation Serif', serif;color:#000;white-space:pre;letter-spacing:-0.2px;transform:scaleX(0.9434);transform-origin:left top;-webkit-text-stroke:0.3px;">4428 26</div><div style="position:absolute;left:584px;top:592px;width:33px;height:12px;background:#1d3566;"></div><div style="position:absolute;left:585.5px;top:594.2px;color:#fff;font:bold 7.8px/8px 'Liberation Sans', sans-serif;letter-spacing:0.35px;white-space:pre;">REAC<span style="letter-spacing:0">&#8202;</span>H</div><div style="position:absolute;left:622.5px;top:594.23px;font:normal normal 11.66px/11.66px 'Liberation Serif', serif;color:#000;white-space:pre;transform:scaleX(0.9434);transform-origin:left top;">02</div><div style="position:absolute;right:573px;top:607.73px;font:italic normal 11.66px/11.66px 'Liberation Serif', serif;color:#000;white-space:pre;letter-spacing:-0.2px;transform:scaleX(0.9434);transform-origin:right top;-webkit-text-stroke:0.3px;"><b>RP</b> 4428 48</div><div style="position:absolute;left:622.5px;top:607.23px;font:normal normal 11.66px/11.66px 'Liberation Serif', serif;color:#000;white-space:pre;transform:scaleX(0.9434);transform-origin:left top;">01</div><div style="position:absolute;left:638px;top:581.23px;font:normal bold 11.66px/11.66px 'Liberation Serif', serif;color:#000;white-space:pre;letter-spacing:-0.25px;transform:scaleX(0.9434);transform-origin:left top;">ENTL -SCHRAUBEF BREMSTRAGSATT</div><div style="position:absolute;left:477px;top:640.23px;font:normal bold 11.66px/11.66px 'Liberation Serif', serif;color:#000;white-space:pre;letter-spacing:-0.2px;transform:scaleX(0.9434);transform-origin:left top;">4404 38</div><div style="position:absolute;left:584px;top:638px;width:33px;height:12px;background:#1d3566;"></div><div style="position:absolute;left:585.5px;top:640.2px;color:#fff;font:bold 7.8px/8px 'Liberation Sans', sans-serif;letter-spacing:0.35px;white-space:pre;">REAC<span style="letter-spacing:0">&#8202;</span>H</div><div style="position:absolute;left:622.5px;top:640.23px;font:normal normal 11.66px/11.66px 'Liberation Serif', serif;color:#000;white-space:pre;transform:scaleX(0.9434);transform-origin:left top;">02</div><div style="position:absolute;right:573px;top:654.93px;font:normal bold 11.66px/11.66px 'Liberation Serif', serif;color:#000;white-space:pre;letter-spacing:-0.2px;transform:scaleX(0.9434);transform-origin:right top;">NFP</div><div style="position:absolute;left:638px;top:627.23px;font:normal bold 11.66px/11.66px 'Liberation Serif', serif;color:#000;white-space:pre;letter-spacing:-0.25px;transform:scaleX(0.9434);transform-origin:left top;">BREMS TRAEGER</div><div style="position:absolute;left:638px;top:673.23px;font:normal bold 11.66px/11.66px 'Liberation Serif', serif;color:#000;white-space:pre;letter-spacing:-0.25px;transform:scaleX(0.9434);transform-origin:left top;">KAPPE ABLASS-SCHRAUBE BREMSFL</div><div style="position:absolute;left:477px;top:686.23px;font:normal bold 11.66px/11.66px 'Liberation Serif', serif;color:#000;white-space:pre;letter-spacing:-0.2px;transform:scaleX(0.9434);transform-origin:left top;">4439 13</div><div style="position:absolute;left:584px;top:684px;width:33px;height:12px;background:#1d3566;"></div><div style="position:absolute;left:585.5px;top:686.2px;color:#fff;font:bold 7.8px/8px 'Liberation Sans', sans-serif;letter-spacing:0.35px;white-space:pre;">REAC<span style="letter-spacing:0">&#8202;</span>H</div><div style="position:absolute;left:622.5px;top:686.23px;font:normal normal 11.66px/11.66px 'Liberation Serif', serif;color:#000;white-space:pre;transform:scaleX(0.9434);transform-origin:left top;">02</div><div style="position:absolute;left:456px;top:690px;width:734px;height:42px;background:#fff;"></div>
<svg style="position:absolute;left:0;top:0" width="1190" height="732" viewBox="0 0 1190 732">
<defs>
<linearGradient id="eg" x1="0" y1="0" x2="1" y2="0">
<stop offset="0" stop-color="#c8c8c8"/><stop offset="0.35" stop-color="#ffffff"/><stop offset="1" stop-color="#c4c4c4"/>
</linearGradient>
<g id="eco">
<circle cx="0" cy="0" r="20" fill="#e14414"/>
<path d="M-9 -9 Q-9 -13 -5 -13 L6 -13 Q8.5 -13 8.5 -10.7 Q8.5 -8.4 6 -8.4 L-4.5 -8.4 L-5 -4.5 Q-9.5 -5 -9 -9 Z" fill="url(#eg)"/>
<path d="M-10 -3 Q-8 1.5 -4 1.5 L6 1.5 Q8.5 1.5 8.5 -1 Q8.5 -3.6 6 -3.6 L-5 -3.6 Q-8 -3.6 -10 -3 Z" fill="url(#eg)"/>
<path d="M-9.8 2 Q-7 2 -5.5 3 L-5 6.6 L-9 6.6 Q-10 4 -9.8 2 Z" fill="url(#eg)"/>
<path d="M-9.8 7 Q-9.5 12.8 -4 12.8 L6 12.8 Q8.5 12.8 8.5 9.7 Q8.5 6.6 6 6.6 L-5 6.6 Q-8.5 6.6 -9.8 7 Z" fill="url(#eg)"/>
</g>
<g id="recy">
<path d="M-12.9 -10.5 -7.2 -20.8 -1.7 -15.0 -6.5 -6.7 Z" fill="#335f2f"/>
<path d="M-4.0 -20.8 6.3 -20.8 11.4 -13.1 13.4 -14.1 10.5 -4.4 1.2 -8.6 3.1 -9.2 Z" fill="#3a8f35"/>
<path d="M10.5 0.4 16.9 -2.8 22.0 7.8 15.3 9.1 Z" fill="#335f2f"/>
<path d="M20.4 10.3 15.0 19.0 6.3 18.7 6.3 20.3 -1.4 13.2 6.3 9.1 7.0 10.7 Z" fill="#3a8f35"/>
<path d="M-15.8 17.1 -12.0 10.0 -3.6 10.0 -3.6 17.7 Z" fill="#335f2f"/>
<path d="M-20.3 -2.8 -9.7 -6.0 -9.1 4.2 -11.7 3.0 -16.5 14.5 -22.3 5.8 -18.7 -1.5 Z" fill="#3a8f35"/>
<path d="M-5.2 -0.9 -4.0 -5.4 -2.0 -6.5 3.7 -6.5 5.7 -5.4 7.0 -0.9 8.9 0.4 9.5 4.2 8.2 6.2 8.2 8.4 5.0 8.4 5.0 6.2 -3.3 6.2 -3.3 8.4 -6.8 8.4 -6.8 6.2 -7.7 4.2 -7.2 0.4 Z" fill="#0c0c0c"/>
<path d="M-3.3 -1.2 -2.4 -4.4 4.1 -4.4 5.0 -1.2 Z" fill="#fff"/>
<circle cx="-4.9" cy="2.0" r="1.3" fill="#fff"/><circle cx="6.3" cy="2.0" r="1.3" fill="#fff"/>
</g>
</defs>
<use href="#eco" x="1148" y="88.8"/>
<use href="#eco" x="1148" y="369"/>
<use href="#recy" x="1148.5" y="227"/>
<use href="#recy" x="1148.5" y="274"/>
<!-- stopwatch -->
<circle cx="1148" cy="325.5" r="17" fill="#fff" stroke="#000" stroke-width="4"/>
<rect x="1146" y="302" width="4" height="6" fill="#000"/>
<rect x="1143" y="300.5" width="10" height="2.5" fill="#000"/>
<path d="M1158 306 l3 -3" stroke="#000" stroke-width="2.5"/>
<path d="M1157 302 l4 4" stroke="#000" stroke-width="1.5"/>
<path d="M1147 327 L1152 315" stroke="#000" stroke-width="2.2" stroke-linecap="round"/>
<circle cx="1147" cy="327" r="2.5" fill="#000"/>
<!-- toolbar magnifiers -->
<g>
<path d="M182 19 L190 12" stroke="#f2c41c" stroke-width="2.2"/>
<circle cx="194" cy="9" r="5.2" fill="#fff" stroke="#e8b818" stroke-width="1.6"/>
<path d="M191 9 h6 M194 6 v6" stroke="#000" stroke-width="1.8"/>
<path d="M218 19 L226 12" stroke="#f2c41c" stroke-width="2.2"/>
<circle cx="230" cy="9" r="5.2" fill="#fff" stroke="#e8b818" stroke-width="1.6"/>
<path d="M227 9 h6" stroke="#000" stroke-width="1.8"/>
<path d="M251 19 L259 12" stroke="#f2c41c" stroke-width="2.2"/>
<circle cx="262" cy="9" r="5.2" fill="#fff" stroke="#e8b818" stroke-width="1.6"/>
<path d="M274 5 v12 M268 11 h12" stroke="#000" stroke-width="1.2"/>
<path d="M272 7 l2 -2.5 l2 2.5 Z M272 15 l2 2.5 l2 -2.5 Z M270 9 l-2.5 2 l2.5 2 Z M278 9 l2.5 2 l-2.5 2 Z" fill="#000"/>
</g>
</svg>

</body></html>
